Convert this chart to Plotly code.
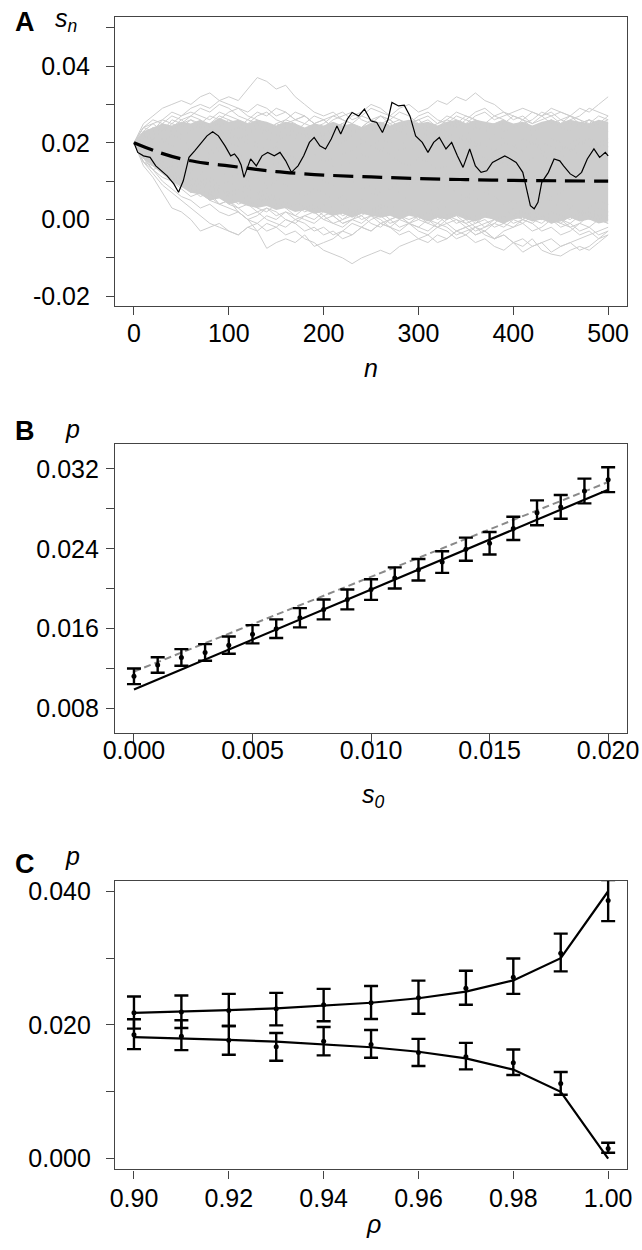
import plotly.graph_objects as go

# ---------------- panel A: s_n paths (values in units of 1e-3) ----------------
path_n = list(range(0, 501, 10))

gray_paths = [
    [20, 24, 23, 26, 28, 27, 29, 30, 29, 31, 32, 31, 34, 37, 36, 34, 35, 32, 30, 28, 27, 28, 26, 25, 27, 26,
     24, 25, 23, 22, 24, 23, 21, 22, 20, 21, 19, 20, 22, 21, 19, 18, 20, 19, 21, 20, 18, 19, 21, 20, 19],
    [20, 25, 27, 29, 30, 31, 30, 32, 33, 31, 30, 29, 28, 30, 29, 27, 28, 26, 27, 25, 26, 27, 28, 26, 27, 29,
     28, 27, 29, 30, 28, 29, 31, 30, 32, 31, 33, 31, 30, 28, 27, 26, 28, 27, 25, 26, 27, 25, 26, 24, 25],
    [20, 22, 21, 23, 24, 22, 23, 25, 24, 22, 23, 21, 22, 24, 23, 25, 24, 22, 23, 21, 22, 24, 25, 23, 24, 26,
     25, 24, 23, 25, 26, 24, 25, 27, 26, 25, 27, 28, 26, 27, 28, 29, 28, 27, 29, 28, 27, 29, 28, 30, 32],
    [20, 15, 13, 11, 10, 8, 6, 7, 5, 4, 3, 2, 0, -1, -3, -2, -4, -3, -5, -6, -8, -9, -10, -11.5, -10, -9,
     -8, -9, -7, -6, -5, -6, -4, -5, -3, -2, -4, -3, -1, -2, 0, -1, 1, 0, 2, 1, 0, 2, 1, 3, 2],
    [20, 16, 14, 12, 13, 11, 9, 10, 8, 9, 7, 8, 6, 5, 7, 6, 4, 5, 3, 2, 4, 3, 1, 2, 0, 1,
     -1, 0, -2, -1, -3, -4, -2, -3, -5, -4, -6, -5, -7, -8, -6, -7, -5, -8, -9, -9.5, -8, -7, -8, -6, -4],
    [20, 14, 11, 7, 3, 2, 0, -3, -2, -1, -3, -4, -2, -1, 1, 0, 2, 1, 3, 2, 0, 1, -1, 0, 2, 1,
     3, 4, 2, 3, 1, 2, 0, 1, -1, 0, -2, -1, 0, 1, -1, 0, 2, 1, 0, -1, 1, 0, 2, 1, 0],
    [20, 17, 15, 12, 10, 11, 8, 6, 7, 4, 5, 2, 0, -3, -7.5, -6, -5, -6, -4, -7, -6, -5, -3, -4, -2, -3,
     -1, -2, 0, -1, 1, 0, -2, -1, -3, -2, -4, -3, -5, -4, -6, -8.5, -7, -6, -5, -7, -6, -8, -7, -5, -3],
    [20, 23, 22, 24, 23, 25, 26, 24, 25, 27, 26, 24, 23, 25, 24, 22, 21, 23, 22, 20, 21, 19, 20, 22, 21, 19,
     18, 20, 19, 21, 20, 22, 23, 21, 22, 20, 21, 19, 18, 20, 19, 21, 22, 20, 19, 18, 20, 21, 19, 20, 21],
    [20, 18, 19, 17, 16, 18, 17, 15, 16, 14, 15, 17, 16, 14, 13, 15, 14, 12, 13, 11, 12, 14, 13, 11, 12, 10,
     11, 13, 12, 10, 9, 11, 10, 12, 11, 9, 10, 8, 9, 11, 10, 12, 11, 13, 12, 10, 11, 9, 10, 12, 11],
    [20, 17, 16, 14, 15, 13, 12, 10, 11, 9, 10, 8, 9, 7, 8, 10, 9, 7, 6, 8, 7, 5, 6, 4, 5, 7,
     6, 8, 7, 5, 6, 4, 5, 3, 4, 6, 5, 7, 6, 4, 5, 3, 4, 6, 5, 3, 4, 2, 3, 5, 4],
    [20, 22, 20, 21, 19, 20, 18, 19, 17, 18, 20, 19, 21, 20, 18, 19, 17, 16, 18, 17, 15, 16, 14, 15, 17, 16,
     18, 17, 15, 14, 16, 15, 13, 14, 16, 15, 17, 16, 14, 15, 13, 14, 16, 17, 15, 16, 18, 17, 15, 16, 17],
    [20, 16, 13, 14, 12, 10, 11, 9, 7, 8, 6, 7, 5, 4, 6, 5, 3, 4, 2, 3, 1, 2, 0, 1, 3, 2,
     4, 3, 1, 2, 0, -1, 1, 0, 2, 1, -1, 0, -2, -1, 1, 0, 2, 1, -1, 0, -2, -1, 1, 0, 1],
    [20, 24, 25, 23, 26, 25, 27, 26, 24, 25, 23, 24, 26, 25, 23, 22, 24, 23, 25, 24, 22, 23, 21, 22, 24, 23,
     25, 26, 24, 25, 23, 22, 24, 23, 21, 22, 24, 23, 25, 26, 24, 25, 23, 24, 26, 25, 27, 26, 24, 25, 26],
    [20, 15, 12, 9, 7, 5, 3, 1, -1, -2, -3, -4, -2, -3, -1, -2, 0, -1, -3, -2, -4, -3, -5, -4, -2, -3,
     -1, -2, -4, -3, -5, -4, -6, -5, -3, -4, -2, -3, -5, -4, -6, -5, -7, -6, -8.5, -7, -6, -5, -4, -3, -2],
    [20, 23, 25, 26, 25, 27, 28, 27, 26, 28, 27, 26, 25, 27, 28, 26, 25, 26, 27, 25, 24, 26, 27, 28, 26, 25,
     27, 26, 24, 25, 26, 27, 25, 26, 28, 27, 26, 25, 27, 28, 26, 27, 25, 26, 27, 28, 27, 26, 25, 27, 26],
    [20, 22, 24, 23, 25, 24, 26, 25, 27, 26, 28, 29, 27, 26, 25, 24, 26, 25, 23, 24, 25, 27, 26, 25, 24, 26,
     27, 25, 26, 24, 25, 23, 24, 26, 25, 27, 26, 24, 25, 23, 24, 26, 25, 27, 28, 26, 25, 24, 26, 25, 27],
    [20, 21, 23, 25, 24, 26, 27, 29, 28, 30, 29, 27, 26, 28, 27, 29, 28, 26, 25, 27, 26, 24, 25, 23, 24, 25,
     27, 26, 28, 27, 25, 26, 24, 25, 27, 26, 28, 29, 27, 26, 24, 25, 26, 28, 27, 25, 26, 27, 29, 28, 27],
    [20, 24, 26, 25, 27, 26, 24, 25, 23, 24, 26, 25, 24, 22, 23, 25, 26, 28, 27, 25, 26, 24, 25, 27, 28, 30,
     29, 27, 26, 25, 27, 28, 26, 25, 24, 26, 25, 23, 24, 25, 27, 26, 24, 25, 26, 24, 23, 25, 26, 24, 23],
    [20, 16, 13, 10, 8, 6, 5, 3, 4, 2, 1, 2, 0, 1, 3, 2, 0, -1, 1, 0, 2, 1, -1, 0, 1, -1,
     -2, 0, 1, -1, 0, 2, 1, -1, 0, -2, -1, 1, 0, -1, 1, 2, 0, -1, 1, 0, -1, 1, 2, 0, -1],
    [20, 17, 15, 12, 11, 9, 7, 8, 6, 4, 5, 3, 4, 2, 3, 1, 2, 0, 1, 2, 0, -1, -2, 0, -1, 1,
     0, -2, -3, -1, -2, 0, -1, 1, 0, -1, -3, -2, 0, -1, -2, 0, -1, -3, -2, -4, -3, -1, -2, 0, -1],
    [20, 15, 14, 13, 11, 12, 10, 8, 9, 7, 6, 4, 5, 3, 2, 4, 3, 1, 0, -1, 1, -1, 0, 2, 1, 3,
     2, 0, 1, -1, -2, -3, -1, -2, -4, -3, -2, -4, -5, -3, -2, -1, -3, -2, 0, -1, -2, -4, -3, -5, -4],
    [20, 18, 16, 14, 12, 10, 9, 7, 5, 6, 4, 3, 1, 2, 0, -1, -2, 0, -1, -3, -2, -4, -3, -1, -2, 0,
     1, -1, 0, 2, 1, -1, -2, 0, 1, -1, 0, -2, -1, 1, 2, 0, -1, 1, 0, -2, -1, -3, -2, -4, -3],
    [20, 16, 15, 13, 14, 12, 11, 9, 10, 8, 7, 6, 8, 7, 5, 6, 4, 5, 3, 4, 2, 3, 4, 2, 3, 1,
     2, 3, 1, 0, 1, 2, 3, 1, 2, 0, 1, 2, 0, 1, 3, 2, 1, 0, 2, 1, 3, 2, 0, 1, 2],
    [20, 19, 21, 20, 22, 21, 19, 20, 18, 19, 21, 22, 20, 19, 21, 20, 22, 21, 19, 18, 20, 19, 17, 18, 20, 19,
     21, 20, 18, 19, 17, 18, 20, 19, 21, 22, 20, 19, 18, 20, 19, 21, 20, 18, 17, 19, 18, 20, 21, 19, 20],
    [20, 18, 17, 15, 16, 14, 13, 12, 14, 13, 11, 12, 10, 11, 9, 10, 12, 11, 13, 12, 10, 9, 11, 10, 8, 9,
     7, 8, 10, 9, 11, 10, 8, 9, 7, 6, 8, 7, 9, 8, 10, 9, 7, 8, 6, 7, 9, 8, 10, 9, 8],
]

# dense core of the cloud of paths (ragged edges, same n grid)
core_upper = [20, 23, 24, 25, 24.5, 25.5, 25, 26, 25, 26.5, 25.5, 26, 25, 26, 25.5, 24.5, 25.5, 25, 24, 25,
              24.5, 25.5, 24.5, 25, 24, 25, 25.5, 24.5, 25.5, 26, 25, 25.5, 24.5, 25.5, 26, 25, 26, 25.5, 25, 26,
              25, 25.5, 24.5, 25.5, 26, 25, 26, 25.5, 25, 26, 25.5]
core_lower = [20, 16, 14, 12, 10, 8.5, 7, 6.5, 5, 5.5, 4, 4.5, 3.5, 3, 3.5, 2.5, 3, 2, 2.5, 1.5,
              2, 1, 1.5, 0.5, 1.5, 1, 0.5, 1, 0, 1, 0.5, -0.5, 0.5, 0, 1, 0, -0.5, 0.5, 0, -1,
              0, 0.5, -0.5, 0, -1, -0.5, 0.5, -0.5, 0, -1, -0.5]

black_n = [0, 4, 10, 17, 23, 29, 35, 42, 47, 52, 58, 64, 71, 77, 83, 89, 96, 102, 106, 110,
           113, 116, 123, 129, 135, 141, 148, 154, 160, 166, 173, 179, 185, 190, 196, 202, 208, 214, 218, 225,
           230, 237, 243, 250, 256, 262, 268, 272, 279, 285, 291, 297, 304, 310, 316, 322, 329, 335, 341, 347,
           354, 360, 366, 372, 378, 385, 391, 397, 403, 410, 414, 418, 422, 426, 430, 437, 443, 449, 453, 460,
           466, 472, 478, 485, 491, 497, 500]
black_v = [20.0, 17.5, 16.6, 16.2, 14.0, 12.7, 11.4, 9.3, 7.1, 10.1, 16.2, 17.9, 20.1, 21.8, 22.9, 21.8, 19.2, 16.6, 17.1, 15.8,
           14.2, 11.0, 15.8, 14.0, 16.6, 17.5, 16.6, 17.5, 15.3, 12.3, 14.0, 16.6, 20.1, 21.4, 19.2, 18.4, 21.0, 24.4, 22.3, 26.2,
           27.9, 27.0, 28.8, 25.7, 25.3, 22.7, 26.2, 30.5, 29.6, 29.8, 27.0, 21.8, 20.1, 17.5, 20.1, 21.4, 18.4, 20.1, 16.6, 13.6,
           18.4, 14.0, 12.3, 12.7, 14.9, 15.8, 16.6, 15.8, 14.9, 12.3, 8.0, 3.6, 2.8, 4.5, 9.7, 12.3, 15.8, 15.3, 14.0, 11.9,
           11.0, 12.3, 15.8, 18.4, 16.2, 17.5, 16.6]

mean_n = [0, 25, 50, 75, 100, 125, 150, 175, 200, 250, 300, 350, 400, 450, 500]
mean_v = [20.0, 17.6, 15.8, 14.7, 14.0, 13.2, 12.5, 12.0, 11.6, 11.1, 10.7, 10.4, 10.2, 10.1, 10.0]

# ---------------- panel B: p against s_0 ----------------
s0 = [0.000, 0.001, 0.002, 0.003, 0.004, 0.005, 0.006, 0.007, 0.008, 0.009, 0.010,
      0.011, 0.012, 0.013, 0.014, 0.015, 0.016, 0.017, 0.018, 0.019, 0.020]
p_b = [0.01124, 0.01237, 0.01313, 0.01363, 0.01436, 0.01545, 0.01601, 0.01710, 0.01793, 0.01893, 0.01992,
       0.02108, 0.02190, 0.02267, 0.02396, 0.02455, 0.02604, 0.02760, 0.02819, 0.02978, 0.03091]
err_b = [0.00078, 0.00078, 0.00083, 0.00083, 0.00086, 0.00091, 0.00093, 0.00096, 0.00099, 0.00099, 0.00103,
         0.00106, 0.00108, 0.00108, 0.00116, 0.00113, 0.00116, 0.00124, 0.00119, 0.00124, 0.00124]
theory_b_x = [0.000, 0.020]
theory_b_y = [0.00992, 0.02991]
fit_b_x = [0.000, 0.020]
fit_b_y = [0.01171, 0.03068]

# ---------------- panel C: p against rho ----------------
rho = [0.90, 0.91, 0.92, 0.93, 0.94, 0.95, 0.96, 0.97, 0.98, 0.99, 1.00]
p_c_up = [0.02183, 0.02193, 0.02218, 0.02243, 0.02302, 0.02332, 0.02406, 0.02550, 0.02713, 0.03074, 0.03861]
p_c_up_top = [0.02426, 0.02441, 0.02466, 0.02480, 0.02540, 0.02584, 0.02663, 0.02812, 0.02995, 0.03366, 0.04168]
p_c_up_bot = [0.01945, 0.01956, 0.01986, 0.01995, 0.02055, 0.02089, 0.02168, 0.02302, 0.02465, 0.02802, 0.03554]
p_c_lo = [0.01856, 0.01832, 0.01772, 0.01674, 0.01758, 0.01708, 0.01589, 0.01525, 0.01436, 0.01124, 0.00154]
p_c_lo_top = [0.02085, 0.02070, 0.01985, 0.01881, 0.01970, 0.01926, 0.01792, 0.01733, 0.01634, 0.01297, 0.00238]
p_c_lo_bot = [0.01639, 0.01624, 0.01555, 0.01466, 0.01545, 0.01510, 0.01386, 0.01337, 0.01253, 0.00956, 0.00089]
theory_c_up = [0.02182, 0.02200, 0.02222, 0.02250, 0.02286, 0.02333, 0.02400, 0.02500, 0.02667, 0.03000, 0.04000]
theory_c_lo = [0.01818, 0.01800, 0.01778, 0.01750, 0.01714, 0.01667, 0.01600, 0.01500, 0.01333, 0.01000, 0.00000]

FONT = "Liberation Sans"
W, H = 642, 1250
GRAY = "#cdcdcd"
AXIS_COLOR = "#444444"

fig = go.Figure()

# A: cloud core, individual paths, highlighted path, mean curve
fig.add_trace(go.Scatter(
    x=path_n + path_n[::-1],
    y=[v / 1000 for v in core_upper] + [v / 1000 for v in core_lower[::-1]],
    fill="toself", fillcolor=GRAY, line=dict(width=0), mode="lines",
    hoverinfo="skip", xaxis="x", yaxis="y",
))
for path in gray_paths:
    fig.add_trace(go.Scatter(
        x=path_n, y=[v / 1000 for v in path], mode="lines",
        line=dict(color=GRAY, width=1), xaxis="x", yaxis="y",
    ))
fig.add_trace(go.Scatter(
    x=black_n, y=[v / 1000 for v in black_v], mode="lines",
    line=dict(color="black", width=1.2), xaxis="x", yaxis="y",
))
fig.add_trace(go.Scatter(
    x=mean_n, y=[v / 1000 for v in mean_v], mode="lines", line_shape="spline",
    line=dict(color="black", width=3.2, dash="20px,9px"), xaxis="x", yaxis="y",
))

# B
fig.add_trace(go.Scatter(
    x=fit_b_x, y=fit_b_y, mode="lines",
    line=dict(color="#8a8a8a", width=2, dash="7px,4px"), xaxis="x2", yaxis="y2",
))
fig.add_trace(go.Scatter(
    x=theory_b_x, y=theory_b_y, mode="lines",
    line=dict(color="black", width=2.2), xaxis="x2", yaxis="y2",
))
fig.add_trace(go.Scatter(
    x=s0, y=p_b, mode="markers",
    marker=dict(color="black", size=5),
    error_y=dict(type="data", array=err_b, symmetric=True, color="black", thickness=2.4, width=7),
    xaxis="x2", yaxis="y2",
))

# C
for theory in (theory_c_up, theory_c_lo):
    fig.add_trace(go.Scatter(
        x=rho, y=theory, mode="lines",
        line=dict(color="black", width=2.2), xaxis="x3", yaxis="y3",
    ))
for mid, top, bot in ((p_c_up, p_c_up_top, p_c_up_bot), (p_c_lo, p_c_lo_top, p_c_lo_bot)):
    fig.add_trace(go.Scatter(
        x=rho, y=mid, mode="markers",
        marker=dict(color="black", size=5),
        error_y=dict(
            type="data", symmetric=False,
            array=[t - m for t, m in zip(top, mid)],
            arrayminus=[m - b for m, b in zip(mid, bot)],
            color="black", thickness=2.4, width=7,
        ),
        xaxis="x3", yaxis="y3",
    ))

x_domain = [107 / W, 639 / W]


def ydom(top_px, bottom_px):
    return [1 - bottom_px / H, 1 - top_px / H]


def axis(standoff, minor_vals=None, **kw):
    d = dict(
        showline=True, mirror=True, linecolor=AXIS_COLOR, linewidth=1.2,
        ticks="outside", ticklen=8, tickwidth=1.2, tickcolor=AXIS_COLOR,
        showgrid=False, zeroline=False, ticklabeloverflow="allow",
        ticklabelstandoff=standoff,
        tickfont=dict(family=FONT, size=25, color="black"),
    )
    if minor_vals:
        d["minor"] = dict(tickmode="array", tickvals=minor_vals, ticks="outside",
                          ticklen=8, tickwidth=1.2, tickcolor=AXIS_COLOR, showgrid=False)
    d.update(kw)
    return d


fig.update_layout(
    width=W, height=H,
    margin=dict(l=0, r=0, t=0, b=0),
    paper_bgcolor="white", plot_bgcolor="white",
    showlegend=False,
    xaxis=axis(-3, domain=x_domain, anchor="y", range=[-20, 520],
               tickvals=[0, 100, 200, 300, 400, 500]),
    yaxis=axis(11, [-0.01, 0.01, 0.03, 0.05], domain=ydom(14, 305), anchor="x",
               range=[-0.0226, 0.0528],
               tickvals=[-0.02, 0.0, 0.02, 0.04], ticktext=["-0.02", "0.00", "0.02", "0.04"]),
    xaxis2=axis(-13, domain=x_domain, anchor="y2", range=[-0.0008, 0.0208],
                tickvals=[0.0, 0.005, 0.01, 0.015, 0.02],
                ticktext=["0.000", "0.005", "0.010", "0.015", "0.020"]),
    yaxis2=axis(2, [0.012, 0.020, 0.028], domain=ydom(443.5, 734), anchor="x2",
                range=[0.00558, 0.03448],
                tickvals=[0.008, 0.016, 0.024, 0.032], ticktext=["0.008", "0.016", "0.024", "0.032"]),
    xaxis3=axis(-2, domain=x_domain, anchor="y3", range=[0.896, 1.004],
                tickvals=[0.90, 0.92, 0.94, 0.96, 0.98, 1.00],
                ticktext=["0.90", "0.92", "0.94", "0.96", "0.98", "1.00"]),
    yaxis3=axis(10, [0.01, 0.03], domain=ydom(882.5, 1173), anchor="x3",
                range=[-0.0016, 0.0416],
                tickvals=[0.0, 0.02, 0.04], ticktext=["0.000", "0.020", "0.040"]),
)


def label(text, px, py, size=24, bold=False):
    fig.add_annotation(
        text=f"<b>{text}</b>" if bold else text,
        x=px / W, y=1 - py / H, xref="paper", yref="paper",
        showarrow=False, xanchor="center", yanchor="middle",
        font=dict(family=FONT, size=size, color="black"),
    )


label("A", 13, 19, size=27, bold=True)
label("B", 13, 430, size=27, bold=True)
label("C", 13, 866, size=27, bold=True)
label("<i>s</i><sub><i>n</i></sub>", 56, 17, size=25)
label("<i>p</i>", 63, 428, size=25)
label("<i>p</i>", 63, 858, size=25)
label("<i>n</i>", 373, 367, size=25)
label("<i>s</i><sub><i>0</i></sub>", 376, 797, size=25)
label("<i>ρ</i>", 376, 1228, size=25)

fig.write_html("out.html", config={"displayModeBar": False},
               post_script="document.body.style.margin='0';")
